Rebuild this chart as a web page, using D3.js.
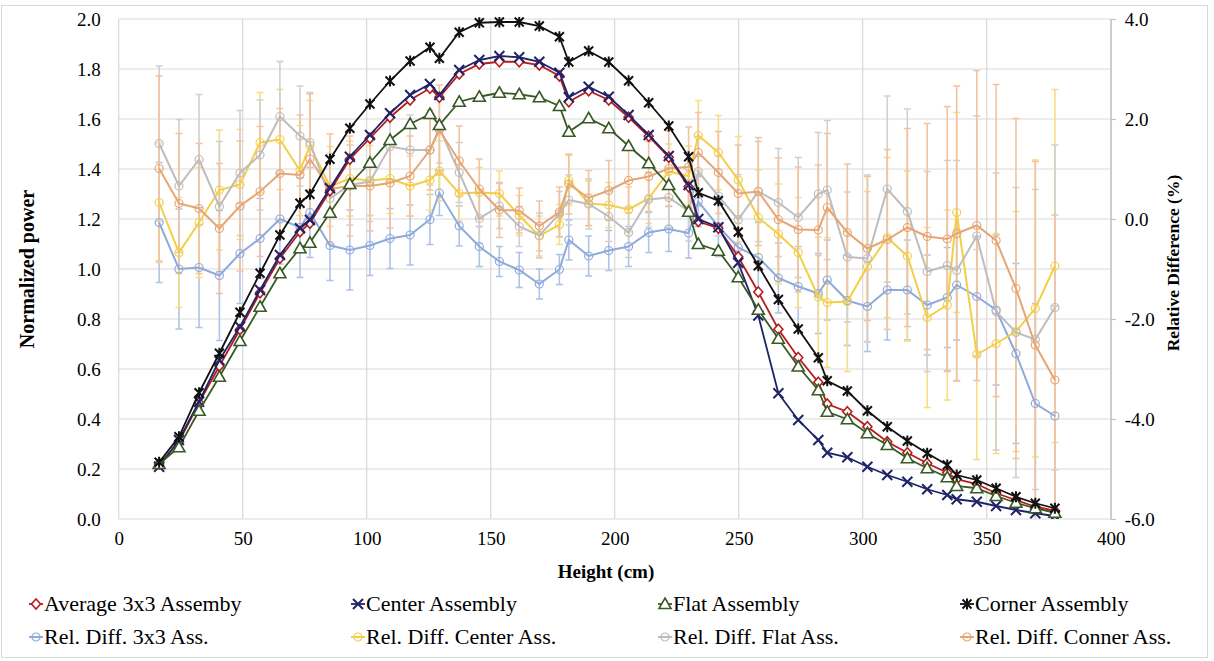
<!DOCTYPE html>
<html>
<head>
<meta charset="utf-8">
<script src="https://cdn.jsdelivr.net/npm/d3@7"></script>
<style>
  body { margin: 0; background: #fff; }
</style>
</head>
<body>
<div id="chart"></div>
<script>
// heights of the measuring points (cm)
const heights = [16.3, 24.3, 32.4, 40.6, 48.9, 57.0, 65.0, 73.1, 77.1, 85.2, 93.2, 101.3, 109.4, 117.5, 125.5,
    129.3, 137.3, 145.4, 153.5, 161.5, 169.6, 177.7, 181.5, 189.5, 197.6, 205.6, 213.7, 221.8, 229.8, 233.7,
    241.8, 249.8, 257.9, 266.0, 274.0, 282.1, 285.7, 293.8, 301.9, 309.9, 318.0, 326.0, 334.1, 337.9, 346.0,
    353.8, 361.8, 369.6, 377.5];

// normalized power (left axis)
const avgAssembly = [0.22, 0.309, 0.465, 0.612, 0.758, 0.905, 1.043, 1.149, 1.183, 1.313, 1.439, 1.523, 1.607, 1.676, 1.723,
    1.687, 1.78, 1.82, 1.829, 1.829, 1.816, 1.772, 1.669, 1.713, 1.676, 1.607, 1.531, 1.447, 1.329, 1.19,
    1.163, 1.049, 0.908, 0.759, 0.646, 0.547, 0.46, 0.429, 0.369, 0.309, 0.265, 0.223, 0.185, 0.159, 0.14,
    0.103, 0.076, 0.049, 0.033];
const centerAssembly = [0.209, 0.316, 0.469, 0.636, 0.769, 0.916, 1.056, 1.163, 1.196, 1.323, 1.449, 1.536, 1.623, 1.696, 1.74,
    1.696, 1.796, 1.836, 1.852, 1.847, 1.829, 1.785, 1.687, 1.729, 1.689, 1.616, 1.536, 1.452, 1.336, 1.2,
    1.167, 1.025, 0.814, 0.503, 0.396, 0.316, 0.265, 0.247, 0.209, 0.176, 0.149, 0.119, 0.096, 0.079, 0.069,
    0.052, 0.036, 0.023, 0.012];
const flatAssembly = [0.22, 0.287, 0.433, 0.569, 0.712, 0.849, 0.983, 1.083, 1.105, 1.225, 1.34, 1.425, 1.516, 1.58, 1.62,
    1.576, 1.669, 1.689, 1.705, 1.699, 1.687, 1.652, 1.549, 1.603, 1.563, 1.492, 1.423, 1.336, 1.229, 1.1,
    1.073, 0.967, 0.837, 0.721, 0.61, 0.515, 0.429, 0.399, 0.343, 0.296, 0.243, 0.203, 0.167, 0.132, 0.123,
    0.092, 0.065, 0.043, 0.025];
const cornerAssembly = [0.227, 0.329, 0.505, 0.663, 0.827, 0.983, 1.136, 1.263, 1.299, 1.439, 1.563, 1.66, 1.752, 1.832, 1.887,
    1.843, 1.947, 1.985, 1.988, 1.988, 1.972, 1.929, 1.828, 1.872, 1.828, 1.753, 1.665, 1.572, 1.449, 1.305,
    1.273, 1.148, 1.013, 0.878, 0.76, 0.645, 0.553, 0.512, 0.433, 0.369, 0.312, 0.263, 0.216, 0.176, 0.156,
    0.123, 0.089, 0.063, 0.043];

// relative differences (right axis, %)
const relDiff3x3 = [-0.07, -1.0, -0.97, -1.13, -0.69, -0.39, 0.0, -0.17, 0.13, -0.53, -0.62, -0.53, -0.39, -0.32, -0.01,
    0.52, -0.14, -0.55, -0.85, -1.02, -1.3, -1.01, -0.42, -0.74, -0.63, -0.55, -0.27, -0.2, -0.28, 0.35,
    -0.15, -0.57, -0.77, -1.18, -1.35, -1.49, -1.22, -1.63, -1.75, -1.42, -1.42, -1.72, -1.57, -1.32, -1.55,
    -1.82, -2.69, -3.69, -3.94];
const relDiffCenter = [0.33, -0.67, -0.07, 0.58, 0.69, 1.53, 1.59, 0.97, 1.47, 0.65, 0.81, 0.77, 0.81, 0.66, 0.78,
    0.96, 0.51, 0.53, 0.51, 0.07, -0.34, -0.11, 0.77, 0.31, 0.28, 0.19, 0.41, 0.95, 0.86, 1.67,
    1.33, 0.78, 0.03, -0.3, -0.67, -1.56, -1.67, -1.65, -0.95, -0.37, -0.74, -1.97, -1.72, 0.13, -2.71,
    -2.49, -2.25, -1.79, -0.94];
const relDiffFlat = [1.51, 0.66, 1.19, 0.25, 0.92, 1.28, 2.05, 1.66, 1.53, 0.41, 0.68, 0.75, 1.45, 1.38, 1.38,
    1.82, 0.93, 0.01, 0.26, -0.15, -0.33, 0.1, 0.38, 0.3, 0.05, -0.27, 0.39, 0.43, 0.16, 0.95,
    0.46, -0.01, 0.55, 0.33, 0.03, 0.5, 0.58, -0.76, -0.79, 0.6, 0.15, -1.05, -0.93, -1.03, -0.34,
    -1.85, -2.27, -2.41, -1.77];
const relDiffCorner = [1.01, 0.31, 0.21, -0.19, 0.26, 0.55, 0.91, 0.88, 1.2, 0.6, 0.66, 0.66, 0.72, 0.86, 1.38,
    1.78, 1.16, 0.6, 0.18, 0.17, -0.14, 0.14, 0.7, 0.42, 0.57, 0.77, 0.85, 1.01, 1.04, 1.33,
    0.93, 0.51, 0.55, -0.01, -0.21, -0.22, 0.23, -0.27, -0.59, -0.41, -0.17, -0.35, -0.4, -0.29, -0.13,
    -0.43, -1.39, -2.52, -3.22];

// error bar half lengths (%)
const err3x3 = [1.2, 1.2, 1.2, 1.3, 1.0, 0.8, 0.9, 1.0, 0.9, 0.7, 0.8, 0.6, 0.6, 0.6, 0.5,
    0.45, 0.4, 0.4, 0.3, 0.35, 0.3, 0.3, 0.4, 0.4, 0.4, 0.4, 0.4, 0.45, 0.5, 0.5,
    0.6, 0.6, 0.7, 0.7, 0.8, 0.8, 0.8, 0.9, 0.9, 1.0, 1.0, 1.0, 1.0, 1.1, 1.2,
    1.5, 1.8, 2.0, 2.2];
const errCenter = [1.2, 1.1, 1.1, 1.2, 1.1, 1.0, 1.0, 0.9, 0.9, 0.8, 0.75, 0.7, 0.7, 0.6, 0.6,
    0.6, 0.55, 0.5, 0.45, 0.4, 0.4, 0.4, 0.5, 0.45, 0.45, 0.45, 0.5, 0.55, 0.6, 0.7,
    0.74, 0.87, 0.95, 1.0, 1.1, 1.2, 1.3, 1.4, 1.5, 1.6, 1.7, 1.8, 1.9, 2.0, 2.1,
    2.2, 2.4, 2.97, 3.53];
const errFlat = [1.55, 1.33, 1.3, 1.3, 1.25, 1.1, 1.1, 1.0, 1.0, 0.9, 0.8, 0.8, 0.7, 0.7, 0.7,
    0.7, 0.6, 0.5, 0.45, 0.4, 0.45, 0.45, 0.5, 0.5, 0.5, 0.5, 0.55, 0.6, 0.6, 0.7,
    0.8, 0.9, 1.0, 1.08, 1.2, 1.23, 1.39, 1.3, 1.67, 1.86, 2.05, 2.0, 2.1, 2.2, 2.4,
    2.77, 2.9, 3.0, 3.25];
const errCorner = [1.85, 1.4, 1.3, 1.3, 1.3, 1.3, 1.3, 1.2, 1.3, 1.1, 1.0, 0.9, 0.9, 0.8, 0.8,
    0.9, 0.7, 0.6, 0.55, 0.45, 0.5, 0.5, 0.6, 0.55, 0.6, 0.65, 0.7, 0.75, 0.8, 0.8,
    0.82, 0.97, 1.08, 1.23, 1.25, 1.3, 1.48, 1.37, 1.44, 1.8, 1.98, 2.26, 2.65, 2.95, 3.1,
    3.12, 3.4, 3.67, 3.3];

const xTicks = [0, 50, 100, 150, 200, 250, 300, 350, 400];
const leftTicks = [0, 0.2, 0.4, 0.6, 0.8, 1.0, 1.2, 1.4, 1.6, 1.8, 2.0];
const rightTicks = [-6, -4, -2, 0, 2, 4];

const serif = "'Liberation Serif', 'Times New Roman', 'DejaVu Serif', serif";
const width = 1214;
const height = 661;
const plot = { left: 118.7, right: 1110.7, top: 19, bottom: 519 };

const x = d3.scaleLinear().domain([0, 400]).range([plot.left, plot.right]);
const yL = d3.scaleLinear().domain([0, 2]).range([plot.bottom, plot.top]);
const yR = d3.scaleLinear().domain([-6, 4]).range([plot.bottom, plot.top]);

const mainSeries = [
    { name: "Average 3x3 Assemby", values: avgAssembly, color: "#B71C1C", marker: "diamond" },
    { name: "Center Assembly", values: centerAssembly, color: "#1F2468", marker: "cross" },
    { name: "Flat Assembly", values: flatAssembly, color: "#3A5A25", marker: "triangle" },
    { name: "Corner Assembly", values: cornerAssembly, color: "#111111", marker: "star" },
];
const diffSeries = [
    { name: "Rel. Diff. 3x3 Ass.", values: relDiff3x3, err: err3x3, color: "#8FAADC", bar: "#AFC3E8" },
    { name: "Rel. Diff. Center Ass.", values: relDiffCenter, err: errCenter, color: "#F3CF45", bar: "#F7DD85" },
    { name: "Rel. Diff. Flat Ass.", values: relDiffFlat, err: errFlat, color: "#BDBDBD", bar: "#D0D0D0" },
    { name: "Rel. Diff. Conner Ass.", values: relDiffCorner, err: errCorner, color: "#E6A674", bar: "#F2C3A0" },
];

const svg = d3.select("#chart").append("svg")
    .attr("width", width)
    .attr("height", height)
    .style("font-family", serif);

// outer frame
svg.append("rect")
    .attr("x", 1.5).attr("y", 5.5)
    .attr("width", 1206).attr("height", 652)
    .attr("fill", "#fff")
    .attr("stroke", "#D9D9D9");

// gridlines
svg.append("g").selectAll("line")
    .data(leftTicks)
    .enter().append("line")
    .attr("x1", plot.left).attr("x2", plot.right)
    .attr("y1", d => yL(d)).attr("y2", d => yL(d))
    .attr("stroke", "#D9D9D9").attr("stroke-width", 1.2);
svg.append("g").selectAll("line")
    .data(xTicks)
    .enter().append("line")
    .attr("x1", d => x(d)).attr("x2", d => x(d))
    .attr("y1", plot.top).attr("y2", plot.bottom)
    .attr("stroke", "#D9D9D9").attr("stroke-width", 1.2);

// axes
const leftAxis = svg.append("g")
    .attr("transform", `translate(${plot.left},0)`)
    .call(d3.axisLeft(yL).tickValues(leftTicks).tickSize(0).tickPadding(18).tickFormat(d => d.toFixed(1)));
leftAxis.select(".domain").remove();

const bottomAxis = svg.append("g")
    .attr("transform", `translate(0,${plot.bottom})`)
    .call(d3.axisBottom(x).tickValues(xTicks).tickSize(0).tickPadding(13).tickFormat(d3.format("d")));
bottomAxis.select(".domain").remove();

const rightAxis = svg.append("g")
    .attr("transform", `translate(${plot.right},0)`)
    .call(d3.axisRight(yR).tickValues(rightTicks).tickSize(5).tickPadding(9).tickFormat(d => d.toFixed(1)));
rightAxis.select(".domain").attr("stroke", "#BFBFBF").attr("stroke-width", 1.2);
rightAxis.selectAll(".tick line").attr("stroke", "#BFBFBF").attr("stroke-width", 1.2);

[leftAxis, bottomAxis, rightAxis].forEach(a => a.attr("font-family", null).attr("font-size", null));
svg.selectAll(".tick text")
    .style("font-family", serif)
    .style("font-size", "19px")
    .attr("fill", "#000");

// axis titles
svg.append("text")
    .attr("x", 606).attr("y", 578)
    .attr("text-anchor", "middle")
    .style("font-family", serif)
    .style("font-size", "19px").style("font-weight", "bold")
    .text("Height (cm)");
svg.append("text")
    .attr("transform", "translate(34,269) rotate(-90)")
    .attr("text-anchor", "middle")
    .style("font-family", serif)
    .style("font-size", "20px").style("font-weight", "bold")
    .text("Normalized power");
svg.append("text")
    .attr("transform", "translate(1179,263) rotate(-90)")
    .attr("text-anchor", "middle")
    .style("font-family", serif)
    .style("font-size", "17.5px").style("font-weight", "bold")
    .text("Relative Difference (%)");

// clip to plot area
svg.append("clipPath").attr("id", "plotClip")
    .append("rect")
    .attr("x", plot.left).attr("y", plot.top - 2)
    .attr("width", plot.right - plot.left).attr("height", plot.bottom - plot.top + 2);

const plotG = svg.append("g").attr("clip-path", "url(#plotClip)");

// error bars
diffSeries.forEach(s => {
    const g = plotG.append("g");
    const pts = heights.map((h, i) => ({ h: h, v: s.values[i], e: s.err[i] }));
    g.selectAll("line.bar")
        .data(pts)
        .enter().append("line")
        .attr("x1", d => x(d.h)).attr("x2", d => x(d.h))
        .attr("y1", d => yR(d.v + d.e)).attr("y2", d => yR(d.v - d.e))
        .attr("stroke", s.bar).attr("stroke-width", 1.6);
    [1, -1].forEach(sign => {
        g.selectAll(null)
            .data(pts)
            .enter().append("line")
            .attr("x1", d => x(d.h) - 3.5).attr("x2", d => x(d.h) + 3.5)
            .attr("y1", d => yR(d.v + sign * d.e)).attr("y2", d => yR(d.v + sign * d.e))
            .attr("stroke", s.bar).attr("stroke-width", 1.6);
    });
});

// difference lines with open circles
diffSeries.forEach(s => {
    const line = d3.line().x((d, i) => x(heights[i])).y(d => yR(d));
    plotG.append("path")
        .datum(s.values)
        .attr("d", line)
        .attr("fill", "none")
        .attr("stroke", s.color)
        .attr("stroke-width", 2);
    plotG.append("g").selectAll("circle")
        .data(s.values)
        .enter().append("circle")
        .attr("cx", (d, i) => x(heights[i]))
        .attr("cy", d => yR(d))
        .attr("r", 4)
        .attr("fill", "none")
        .attr("stroke", s.color)
        .attr("stroke-width", 1.2);
});

function markerPath(type) {
    if (type === "diamond") return "M0,-5L4.5,0L0,5L-4.5,0Z";
    if (type === "cross") return "M-5,-5L5,5M-5,5L5,-5";
    if (type === "triangle") return "M0,-6L6,4.5L-6,4.5Z";
    return "M-4.5,-4.5L4.5,4.5M-4.5,4.5L4.5,-4.5M0,-5.5L0,5.5";
}

function drawMarkers(g, type, color, points) {
    const closed = type === "diamond" || type === "triangle";
    g.selectAll(null)
        .data(points)
        .enter().append("path")
        .attr("transform", d => `translate(${d[0]},${d[1]})`)
        .attr("d", markerPath(type))
        .attr("fill", closed ? "#fff" : "none")
        .attr("stroke", color)
        .attr("stroke-width", closed ? 1.6 : 2);
}

// main lines
mainSeries.forEach(s => {
    const line = d3.line().x((d, i) => x(heights[i])).y(d => yL(d));
    plotG.append("path")
        .datum(s.values)
        .attr("d", line)
        .attr("fill", "none")
        .attr("stroke", s.color)
        .attr("stroke-width", 1.8);
    drawMarkers(plotG.append("g"), s.marker, s.color, s.values.map((v, i) => [x(heights[i]), yL(v)]));
});

// legend
const legendCols = [36, 358, 665, 967];
const legendRows = [604, 637];
mainSeries.forEach((s, i) => {
    const g = svg.append("g").attr("transform", `translate(${legendCols[i]},${legendRows[0]})`);
    g.append("line").attr("x1", -7).attr("x2", 7).attr("stroke", s.color).attr("stroke-width", 1.8);
    drawMarkers(g, s.marker, s.color, [[0, 0]]);
    g.append("text").attr("x", 8).attr("y", 7)
        .style("font-family", serif)
        .style("font-size", "22px")
        .text(s.name);
});
diffSeries.forEach((s, i) => {
    const g = svg.append("g").attr("transform", `translate(${legendCols[i]},${legendRows[1]})`);
    g.append("line").attr("x1", -7).attr("x2", 7).attr("stroke", s.color).attr("stroke-width", 2);
    g.append("circle").attr("r", 4).attr("fill", "none").attr("stroke", s.color).attr("stroke-width", 1.2);
    g.append("text").attr("x", 8).attr("y", 7)
        .style("font-family", serif)
        .style("font-size", "22px")
        .text(s.name);
});
</script>
</body>
</html>
